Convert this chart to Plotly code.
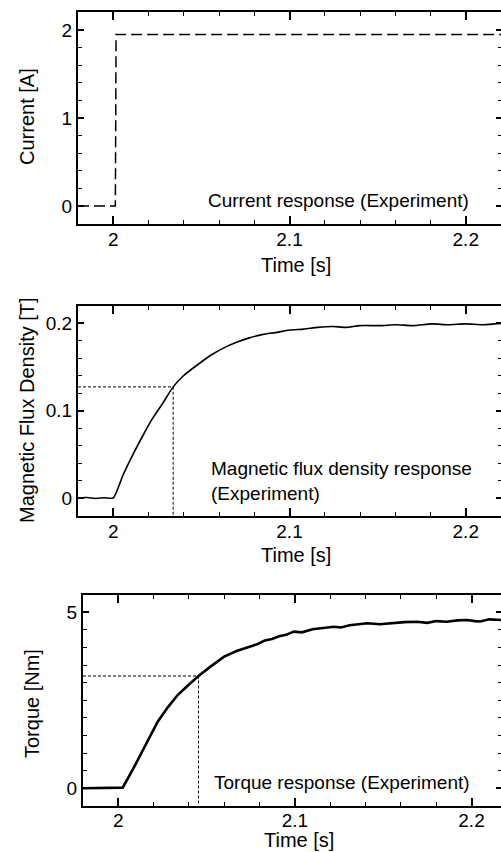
import plotly.graph_objects as go

# ---------------- data ----------------
current_t = [1.98, 1.99, 2.0, 2.0012, 2.0016, 2.01, 2.03, 2.06, 2.09, 2.12, 2.15, 2.18, 2.2, 2.21, 2.222]
current_A = [0.0, 0.0, 0.0, 0.0, 1.95, 1.95, 1.945, 1.95, 1.95, 1.945, 1.95, 1.95, 1.95, 1.95, 1.95]

flux_t = [1.98, 1.985, 1.99, 1.995, 2.0, 2.0055, 2.0115, 2.017, 2.0217, 2.028, 2.034, 2.04,
          2.049, 2.056, 2.0642, 2.07, 2.0772, 2.085, 2.092, 2.1, 2.108, 2.116, 2.1245, 2.132,
          2.14, 2.1525, 2.16, 2.17, 2.181, 2.19, 2.2, 2.21, 2.222]
flux_B = [0.0, 0.0005, -0.0005, 0.0003, 0.0, 0.026, 0.051, 0.072, 0.089, 0.108, 0.127, 0.14,
          0.154, 0.164, 0.173, 0.178, 0.183, 0.187, 0.189, 0.192, 0.193, 0.195, 0.196, 0.195,
          0.197, 0.197, 0.198, 0.197, 0.199, 0.198, 0.199, 0.198, 0.2]
flux_tau_t = 2.034
flux_tau_B = 0.127

torque_t = [1.98, 1.99, 2.0, 2.0025, 2.009, 2.0147, 2.0223, 2.028, 2.0336, 2.04, 2.0454, 2.052,
            2.0599, 2.067, 2.075, 2.079, 2.083, 2.087, 2.091, 2.095, 2.0994, 2.104, 2.11, 2.116,
            2.122, 2.126, 2.131, 2.136, 2.141, 2.148, 2.155, 2.162, 2.169, 2.175, 2.18, 2.186,
            2.192, 2.1974, 2.202, 2.205, 2.21, 2.2167]
torque_T = [0.0, 0.01, 0.0, 0.02, 0.61, 1.14, 1.89, 2.3, 2.65, 2.95, 3.19, 3.45,
            3.74, 3.9, 4.04, 4.1, 4.2, 4.24, 4.32, 4.36, 4.45, 4.43, 4.52, 4.55,
            4.59, 4.57, 4.63, 4.66, 4.69, 4.66, 4.7, 4.72, 4.73, 4.7, 4.75, 4.73,
            4.77, 4.78, 4.75, 4.74, 4.8, 4.78]
torque_tau_t = 2.0454
torque_tau_T = 3.19

x_ticks = [2, 2.1, 2.2]
x_ticklabels = ["2", "2.1", "2.2"]

FONT = "Liberation Sans, Arial, Helvetica, sans-serif"
W, H = 501, 852

fig = go.Figure()

fig.add_trace(go.Scatter(x=current_t, y=current_A, mode="lines",
                         line=dict(color="black", width=1.5, dash="11px,5px"),
                         xaxis="x", yaxis="y", showlegend=False))

fig.add_trace(go.Scatter(x=[1.98, flux_tau_t, flux_tau_t], y=[flux_tau_B, flux_tau_B, -0.02],
                         mode="lines", line=dict(color="black", width=1, dash="3px,2px"),
                         xaxis="x2", yaxis="y2", showlegend=False))
fig.add_trace(go.Scatter(x=flux_t, y=flux_B, mode="lines", line_shape="spline",
                         line=dict(color="black", width=1.6, smoothing=0.6),
                         xaxis="x2", yaxis="y2", showlegend=False))

fig.add_trace(go.Scatter(x=[1.98, torque_tau_t, torque_tau_t], y=[torque_tau_T, torque_tau_T, -0.5],
                         mode="lines", line=dict(color="black", width=1, dash="3px,2px"),
                         xaxis="x3", yaxis="y3", showlegend=False))
fig.add_trace(go.Scatter(x=torque_t, y=torque_T, mode="lines",
                         line=dict(color="black", width=2.6),
                         xaxis="x3", yaxis="y3", showlegend=False))


def xax(domain, rng, anchor, standoff=-2):
    return dict(domain=domain, range=rng, anchor=anchor,
                tickmode="array", tickvals=x_ticks, ticktext=x_ticklabels,
                ticks="inside", ticklen=8, tickwidth=1.5, tickcolor="black",
                minor=dict(ticks="inside", ticklen=4, tickwidth=1, dtick=0.02, tick0=2,
                           tickcolor="black", showgrid=False),
                showline=True, linewidth=2, linecolor="black", mirror="ticks",
                showgrid=False, zeroline=False,
                tickfont=dict(family=FONT, size=19, color="black"),
                ticklabelstandoff=standoff)


def yax(domain, rng, anchor, dtick, mdtick, labels, side="left", overlay=None):
    vals = [0, dtick, 2 * dtick]
    d = dict(domain=domain, range=rng, anchor=anchor, side=side,
             tickmode="array", tickvals=vals[:len(labels)], ticktext=labels,
             ticks="inside", ticklen=6 if side == "left" else 5, tickwidth=1.5, tickcolor="black",
             minor=dict(ticks="inside", ticklen=4 if side == "left" else 3, tickwidth=1,
                        dtick=mdtick, tick0=0, tickcolor="black", showgrid=False),
             showline=(side == "left"), linewidth=2, linecolor="black",
             showgrid=False, zeroline=False, showticklabels=(side == "left"),
             tickfont=dict(family=FONT, size=19, color="black"))
    if overlay:
        d["overlaying"] = overlay
    return d


def py(px):
    return 1 - px / H


def pxx(px):
    return px / W


d1 = [py(223.6), py(12.4)]
d2 = [py(515.5), py(305.5)]
d3 = [py(805.9), py(594.7)]
r1, r2, r3 = [-0.2, 2.2], [-0.02, 0.22], [-0.5, 5.5]

fig.update_layout(
    width=W, height=H,
    margin=dict(l=0, r=0, t=0, b=0),
    paper_bgcolor="white", plot_bgcolor="white",
    font=dict(family=FONT, color="black"),
    xaxis=xax([pxx(78), 1.0], [1.98, 2.22], "y"),
    yaxis=yax(d1, r1, "x", 1, 0.2, ["0", "1", "2"]),
    yaxis4=yax(d1, r1, "x", 1, 0.2, ["0", "1", "2"], side="right", overlay="y"),
    xaxis2=xax([pxx(78), 1.0], [1.98, 2.22], "y2"),
    yaxis2=yax(d2, r2, "x2", 0.1, 0.02, ["0", "0.1", "0.2"]),
    yaxis5=yax(d2, r2, "x2", 0.1, 0.02, ["0", "0.1", "0.2"], side="right", overlay="y2"),
    xaxis3=xax([pxx(83), 1.0], [1.98, 2.2167], "y3", standoff=-4),
    yaxis3=yax(d3, r3, "x3", 5, 0.5, ["0", "5"]),
    yaxis6=yax(d3, r3, "x3", 5, 0.5, ["0", "5"], side="right", overlay="y3"),
)

ann_font = dict(family=FONT, size=19, color="black")
title_font = dict(family=FONT, size=20, color="black")
annotations = [
    # axis titles
    dict(text="Current [A]", x=pxx(27), y=py(117), textangle=-90, font=title_font),
    dict(text="Magnetic Flux Density [T]", x=pxx(27), y=py(410), textangle=-90, font=title_font),
    dict(text="Torque [Nm]", x=pxx(32), y=py(703), textangle=-90, font=title_font),
    dict(text="Time [s]", x=pxx(296), y=py(265), font=title_font),
    dict(text="Time [s]", x=pxx(296), y=py(555), font=title_font),
    dict(text="Time [s]", x=pxx(299), y=py(840), font=title_font),
    # in-plot labels
    dict(text="Current response (Experiment)", x=pxx(471), y=py(200), xanchor="right", font=ann_font),
    dict(text="Magnetic flux density response<br>(Experiment)", x=pxx(209), y=py(481),
         xanchor="left", align="left", font=ann_font),
    dict(text="Torque response (Experiment)", x=pxx(472), y=py(782), xanchor="right", font=ann_font),
]
for a in annotations:
    a.setdefault("xanchor", "center")
    a.update(xref="paper", yref="paper", showarrow=False, yanchor="middle")
fig.update_layout(annotations=annotations)

# invisible traces so the right-hand tick axes are drawn
for ya, xa, r in (("y4", "x", r1), ("y5", "x2", r2), ("y6", "x3", r3)):
    fig.add_trace(go.Scatter(x=[2.1], y=[r[0]], mode="markers", marker=dict(opacity=0),
                             xaxis=xa, yaxis=ya, showlegend=False, hoverinfo="skip"))

fig.write_html("out.html")
